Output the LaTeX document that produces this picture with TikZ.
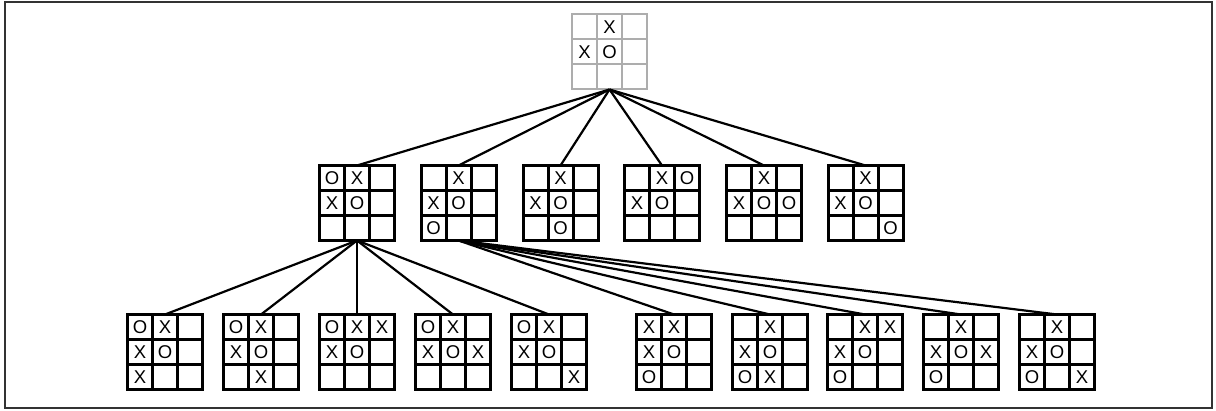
\documentclass[tikz,border=0pt]{standalone}
\usepackage{fontspec}
\setmainfont{Liberation Sans}
\usetikzlibrary{calc}

% one board: line style, name, centre, marks as mark/column/row
\newcommand{\board}[4]{%
  \begin{scope}[shift={(#3)}]
    \node[board,#1] (#2) at (0,0) {};
    \foreach \k in {-12.5,12.5} {
      \draw[#1] (\k,-37.5) -- (\k,37.5);
      \draw[#1] (-37.5,\k) -- (37.5,\k);
    }
    \foreach \m/\c/\r in {#4}
      \node[cellmark] at (\c*25-25,\r*25-25) {\m};
  \end{scope}}

\begin{document}
\begin{tikzpicture}[x=1pt,y=-1pt,
    board/.style={draw,minimum size=75pt,inner sep=0pt,outer sep=0pt},
    rootline/.style={draw=black!32,line width=2pt},
    boardline/.style={draw=black,line width=3pt},
    cellmark/.style={font=\fontsize{18.5}{18.5}\selectfont,inner sep=0pt},
    edge/.style={line width=2.2pt}]
  \useasboundingbox (0,0) rectangle (1216,411);
  \draw[black!80,line width=1.5pt] (5,2) rectangle (1212,408);

  \board{rootline}{root}{609.5,52}{X/1/0,X/0/1,O/1/1}

  \board{boardline}{m1}{357,203}{O/0/0,X/1/0,X/0/1,O/1/1}
  \board{boardline}{m2}{458.5,203}{X/1/0,X/0/1,O/1/1,O/0/2}
  \board{boardline}{m3}{560.5,203}{X/1/0,X/0/1,O/1/1,O/1/2}
  \board{boardline}{m4}{662,203}{X/1/0,O/2/0,X/0/1,O/1/1}
  \board{boardline}{m5}{764,203}{X/1/0,X/0/1,O/1/1,O/2/1}
  \board{boardline}{m6}{865.5,203}{X/1/0,X/0/1,O/1/1,O/2/2}

  \board{boardline}{l1}{165,352}{O/0/0,X/1/0,X/0/1,O/1/1,X/0/2}
  \board{boardline}{l2}{261,352}{O/0/0,X/1/0,X/0/1,O/1/1,X/1/2}
  \board{boardline}{l3}{357,352}{O/0/0,X/1/0,X/2/0,X/0/1,O/1/1}
  \board{boardline}{l4}{453,352}{O/0/0,X/1/0,X/0/1,O/1/1,X/2/1}
  \board{boardline}{l5}{549,352}{O/0/0,X/1/0,X/0/1,O/1/1,X/2/2}
  \board{boardline}{l6}{674,352}{X/0/0,X/1/0,X/0/1,O/1/1,O/0/2}
  \board{boardline}{l7}{770,352}{X/1/0,X/0/1,O/1/1,O/0/2,X/1/2}
  \board{boardline}{l8}{865,352}{X/1/0,X/2/0,X/0/1,O/1/1,O/0/2}
  \board{boardline}{l9}{961,352}{X/1/0,X/0/1,O/1/1,X/2/1,O/0/2}
  \board{boardline}{l10}{1057,352}{X/1/0,X/0/1,O/1/1,O/0/2,X/2/2}

  \foreach \i in {1,...,6}
    \draw[edge] (root.south) -- (m\i.north);
  \foreach \i in {1,...,5}
    \draw[edge] (m1.south) -- (l\i.north);
  \foreach \i in {6,...,10}
    \draw[edge] (m2.south) -- (l\i.north);
\end{tikzpicture}
\end{document}
